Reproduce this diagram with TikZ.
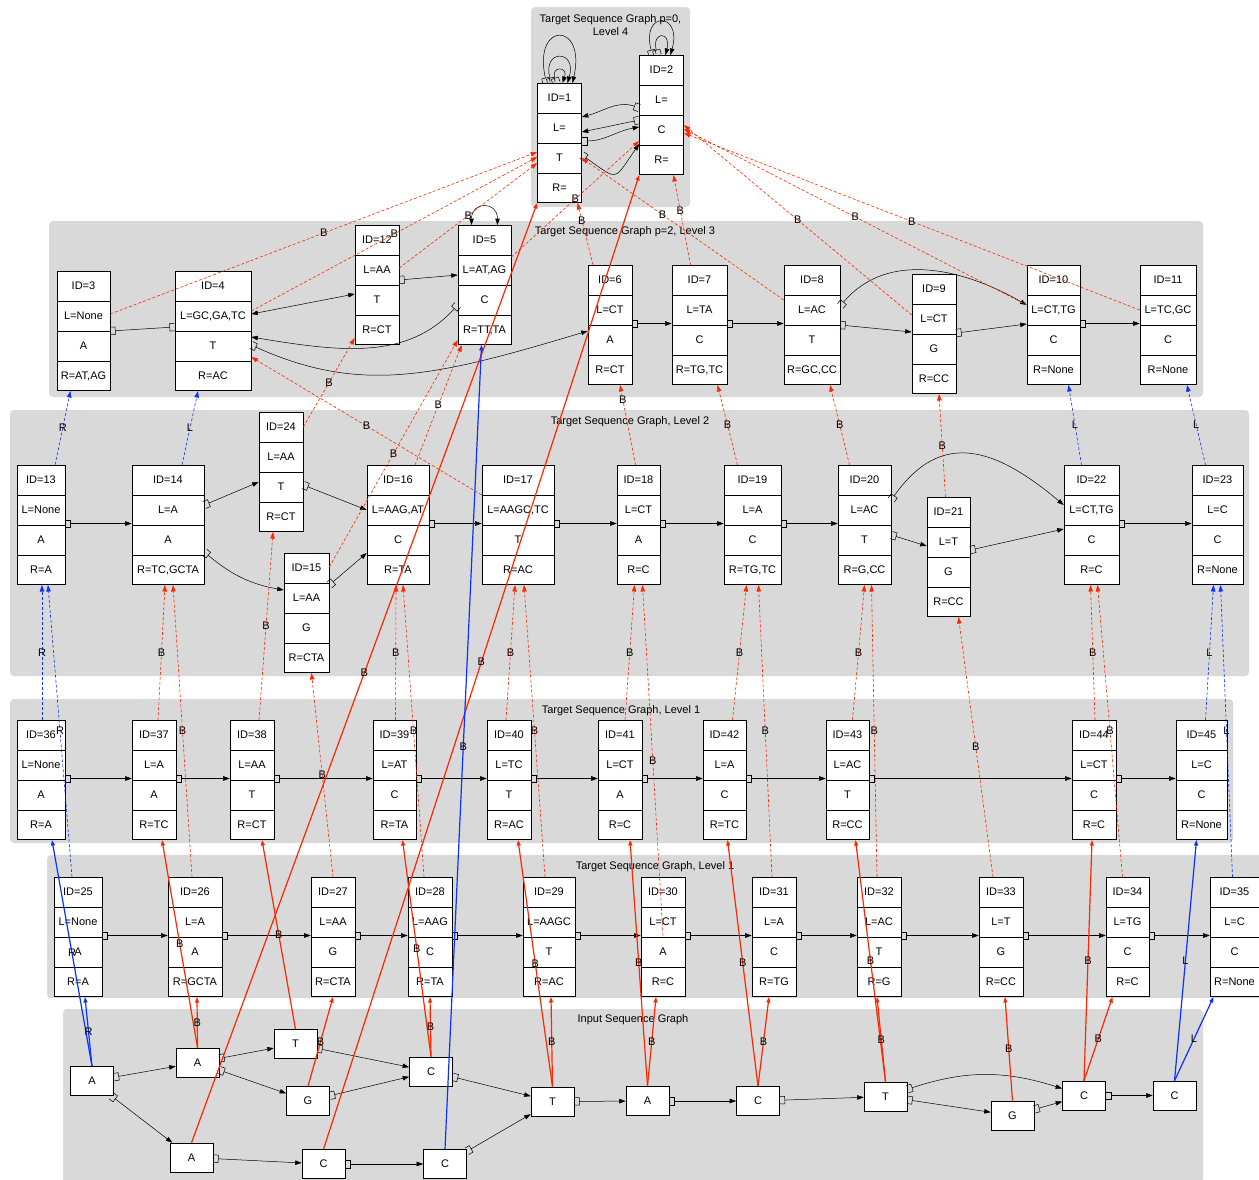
\documentclass[tikz,border=0pt]{standalone}
\usepackage{fontspec}
\setmainfont{Liberation Sans}
\usetikzlibrary{shapes.multipart,arrows.meta}
\definecolor{clus}{RGB}{217,217,217}
\definecolor{bred}{RGB}{255,38,0}
\definecolor{bblue}{RGB}{10,50,255}
\newcommand{\sr}{\rule[-11pt]{0pt}{29.25pt}}
\newcommand{\recnode}[7]{\node[rec,minimum width=#3pt] (#1) at (#2) {\sr ID=#4\nodepart{two}\sr L=#5\nodepart{three}\sr #6\nodepart{four}\sr R=#7};}
\begin{document}
\begin{tikzpicture}[x=1pt,y=1pt,font=\fontsize{11}{13}\selectfont,
  rec/.style={rectangle split,rectangle split parts=4,draw,fill=white,anchor=north,inner xsep=1pt,inner ysep=0pt,line width=0.6pt},
  box/.style={draw,fill=white,minimum width=43pt,minimum height=29pt,inner sep=0pt,line width=0.6pt},
  clusbox/.style={fill=clus,rounded corners=4pt},
  lnk/.style={line width=0.5pt,arrows={Bracket[reversed,length=5pt,width=8pt]-Triangle[length=6.5pt,width=4.5pt]}},
  lnkb/.style={line width=0.5pt,arrows={Triangle[length=6.5pt,width=4.5pt]-Triangle[length=6.5pt,width=4.5pt]}},
  lnkt/.style={line width=0.5pt,arrows={Bracket[reversed,length=5pt,width=8pt]-Bracket[reversed,length=5pt,width=8pt]}},
  redd/.style={draw=bred,line width=0.6pt,dash pattern=on 3pt off 2pt,arrows={-Triangle[length=6.5pt,width=4.5pt,fill=bred]}},
  blued/.style={draw=bblue,line width=0.6pt,dash pattern=on 3pt off 2pt,arrows={-Triangle[length=6.5pt,width=4.5pt,fill=bblue]}},
  reds/.style={draw=bred,line width=1.2pt,arrows={-Triangle[length=5.5pt,width=4pt,fill=bred]}},
  blues/.style={draw=bblue,line width=1.2pt,arrows={-Triangle[length=5.5pt,width=4pt,fill=bblue]}},
  lbl/.style={text=black,inner sep=0pt}]
\useasboundingbox (0,0) rectangle (1259,-1179);
\fill[clusbox] (531,-7) rectangle (690,-207);
\fill[clusbox] (49,-221) rectangle (1203,-397);
\fill[clusbox] (10,-410) rectangle (1249,-676);
\fill[clusbox] (10,-699) rectangle (1233,-843);
\fill[clusbox] (47,-855) rectangle (1263,-998);
\fill[clusbox] (63,-1009) rectangle (1203,-1183);
\node[align=center] (t4) at (610.5,-25) {Target Sequence Graph p=0,\\Level 4};
\node (t3) at (625,-232) {Target Sequence Graph p=2, Level 3};
\node (t2) at (630,-422) {Target Sequence Graph, Level 2};
\node (t1a) at (621,-711) {Target Sequence Graph, Level 1};
\node (t1b) at (655,-867) {Target Sequence Graph, Level 1};
\node (tin) at (633,-1020) {Input Sequence Graph};

\recnode{id1}{559.5,-83}{44}{1}{}{T}{}
\recnode{id2}{661.5,-55}{44}{2}{}{C}{}

\recnode{id3}{83.5,-271}{53}{3}{None}{A}{AT,AG}
\recnode{id4}{213,-271}{76}{4}{GC,GA,TC}{T}{AC}
\recnode{id12}{377,-225}{44}{12}{AA}{T}{CT}
\recnode{id5}{484.5,-225}{53}{5}{AT,AG}{C}{TT,TA}
\recnode{id6}{610,-265}{44}{6}{CT}{A}{CT}
\recnode{id7}{699.5,-265}{55}{7}{TA}{C}{TG,TC}
\recnode{id8}{812,-265}{56}{8}{AC}{T}{GC,CC}
\recnode{id9}{934,-274}{44}{9}{CT}{G}{CC}
\recnode{id10}{1053.5,-265}{53}{10}{CT,TG}{C}{None}
\recnode{id11}{1168,-265}{56}{11}{TC,GC}{C}{None}

\recnode{id13}{41,-465}{48}{13}{None}{A}{A}
\recnode{id14}{168,-465}{72}{14}{A}{A}{TC,GCTA}
\recnode{id24}{281,-412}{44}{24}{AA}{T}{CT}
\recnode{id15}{306.5,-553}{45}{15}{AA}{G}{CTA}
\recnode{id16}{398,-465}{62}{16}{AAG,AT}{C}{TA}
\recnode{id17}{518,-465}{72}{17}{AAGC,TC}{T}{AC}
\recnode{id18}{638.5,-465}{43}{18}{CT}{A}{C}
\recnode{id19}{752.5,-465}{57}{19}{A}{C}{TG,TC}
\recnode{id20}{864.5,-465}{53}{20}{AC}{T}{G,CC}
\recnode{id21}{948.5,-497}{43}{21}{T}{G}{CC}
\recnode{id22}{1091.5,-465}{55}{22}{CT,TG}{C}{C}
\recnode{id23}{1217.5,-465}{51}{23}{C}{C}{None}

\recnode{id36}{41,-720}{48}{36}{None}{A}{A}
\recnode{id37}{154,-720}{44}{37}{A}{A}{TC}
\recnode{id38}{252,-720}{44}{38}{AA}{T}{CT}
\recnode{id39}{394.5,-720}{43}{39}{AT}{C}{TA}
\recnode{id40}{509,-720}{44}{40}{TC}{T}{AC}
\recnode{id41}{620,-720}{44}{41}{CT}{A}{C}
\recnode{id42}{724.5,-720}{43}{42}{A}{C}{TC}
\recnode{id43}{847.5,-720}{43}{43}{AC}{T}{CC}
\recnode{id44}{1094,-720}{44}{44}{CT}{C}{C}
\recnode{id45}{1201.5,-720}{51}{45}{C}{C}{None}

\recnode{id25}{78,-877}{48}{25}{None}{A}{A}
\recnode{id26}{195,-877}{54}{26}{A}{A}{GCTA}
\recnode{id27}{333,-877}{44}{27}{AA}{G}{CTA}
\recnode{id28}{430,-877}{44}{28}{AAG}{C}{TA}
\recnode{id29}{549,-877}{52}{29}{AAGC}{T}{AC}
\recnode{id30}{663,-877}{44}{30}{CT}{A}{C}
\recnode{id31}{774,-877}{44}{31}{A}{C}{TG}
\recnode{id32}{879,-877}{44}{32}{AC}{T}{G}
\recnode{id33}{1001,-877}{44}{33}{T}{G}{CC}
\recnode{id34}{1127.5,-877}{43}{34}{TG}{C}{C}
\recnode{id35}{1234.5,-877}{49}{35}{C}{C}{None}

\node[box] (in1) at (92,-1081) {A};
\node[box] (in2) at (197.5,-1062.5) {A};
\node[box] (in3) at (295.5,-1044) {T};
\node[box] (in4) at (308,-1101) {G};
\node[box] (in5) at (431,-1071.5) {C};
\node[box] (in6) at (191.5,-1157.5) {A};
\node[box] (in7) at (323.5,-1164) {C};
\node[box] (in8) at (445,-1164) {C};
\node[box] (in9) at (552.5,-1101.5) {T};
\node[box] (in10) at (647.5,-1101) {A};
\node[box] (in11) at (758,-1101) {C};
\node[box] (in12) at (885.5,-1096.5) {T};
\node[box] (in13) at (1012.5,-1115.5) {G};
\node[box] (in14) at (1084,-1095.5) {C};
\node[box] (in15) at (1174.5,-1095.5) {C};

\draw[lnk] ([xshift=-13]id1.north) .. controls +(-14,62) and +(14,62) .. ([xshift=13]id1.north);
\draw[lnk] ([xshift=-8]id1.north) .. controls +(-10,34) and +(10,34) .. ([xshift=8]id1.north);
\draw[lnk] ([xshift=-3]id1.north) .. controls +(-6,17) and +(6,17) .. ([xshift=3]id1.north);
\draw[lnk] ([xshift=-9]id2.north) .. controls +(-12,44) and +(12,44) .. ([xshift=9]id2.north);
\draw[lnk] ([xshift=-4]id2.north) .. controls +(-6,24) and +(6,24) .. ([xshift=4]id2.north);
\draw[lnk] ([yshift=-53]id2.north west) to[out=160,in=15] ([yshift=-34]id1.north east);
\draw[lnk] ([yshift=-65]id2.north west) -- ([yshift=-49]id1.north east);
\draw[lnk] ([yshift=-58]id1.north east) to[out=0,in=190] ([yshift=-72]id2.north west);
\draw[lnk] ([yshift=-72]id1.north east) to[out=-35,in=235,looseness=2] ([yshift=-89]id2.north west);

\draw[lnkb] ([xshift=-13]id5.north) .. controls +(0,24) and +(0,24) .. ([xshift=13]id5.north);
\draw[lnkt] ([yshift=-60]id3.north east) -- ([yshift=-56]id4.north west);
\draw[lnkb] ([yshift=-43]id4.north east) -- ([yshift=-69]id12.north west);
\draw[lnk] ([yshift=-55]id12.north east) -- ([yshift=-50]id5.north west);
\draw[lnk] ([yshift=-80]id5.north west) .. controls +(-50,-55) and +(90,-15) .. ([yshift=-66]id4.north east);
\draw[lnk] ([yshift=-74]id4.north east) .. controls +(110,-50) and +(-150,-45) .. ([yshift=-66]id6.north west);
\draw[lnk] ([yshift=-60]id8.north east) -- ([yshift=-58]id9.north west);
\draw[lnk] ([yshift=-41]id8.north east) to[out=50,in=150] ([yshift=-40]id10.north west);
\draw[lnk] ([yshift=-59]id9.north east) -- ([yshift=-59]id10.north west);
\foreach \a/\b in {id6/id7,id7/id8,id10/id11,id13/id14,id16/id17,id17/id18,id18/id19,id19/id20,id22/id23,
  id36/id37,id37/id38,id38/id39,id39/id40,id40/id41,id41/id42,id42/id43,id43/id44,id44/id45,
  id25/id26,id26/id27,id27/id28,id28/id29,id29/id30,id30/id31,id31/id32,id32/id33,id33/id34,id34/id35}
  \draw[lnk] ([yshift=-58.5]\a.north east) -- ([yshift=-58.5]\b.north west);

\draw[lnk] ([yshift=-40]id14.north east) -- ([yshift=-70]id24.north west);
\draw[lnk] ([yshift=-87]id14.north east) to[out=-40,in=170] ([yshift=-37]id15.north west);
\draw[lnk] ([yshift=-73]id24.north east) -- ([yshift=-45]id16.north west);
\draw[lnk] ([yshift=-32]id15.north east) -- ([yshift=-88]id16.north west);
\draw[lnk] ([yshift=-35]id20.north east) to[out=55,in=140,looseness=1.3] ([yshift=-40]id22.north west);
\draw[lnk] ([yshift=-70]id20.north east) -- ([yshift=-49]id21.north west);
\draw[lnk] ([yshift=-53]id21.north east) -- ([yshift=-64]id22.north west);

\foreach \a/\b in {in1/in2,in1/in6,in2/in3,in2/in4,in3/in5,in4/in5,in5/in9,in6/in7,in7/in8,in8/in9,
  in9/in10,in10/in11,in11/in12,in12/in13,in13/in14,in14/in15}
  \draw[lnk] (\a) -- (\b);
\draw[lnk] (in12) to[bend left=18] (in14);

\draw[redd] ([yshift=-43]id3.north east) -- node[lbl]{B} ([yshift=-69]id1.north west);
\draw[redd] ([yshift=-40]id4.north east) -- node[lbl]{B} ([yshift=-74]id1.north west);
\draw[redd] ([yshift=-43]id12.north east) -- node[lbl]{B} ([yshift=-80]id1.north west);
\draw[redd] ([yshift=-32]id5.north east) -- node[lbl]{B} ([yshift=-86]id2.north west);
\draw[redd] ([xshift=-17]id6.north) -- node[lbl,pos=0.72]{B} ([xshift=18]id1.south);
\draw[redd] ([xshift=-9]id7.north) -- node[lbl,pos=0.6]{B} ([xshift=12]id2.south);
\draw[redd] ([yshift=-35]id8.north west) -- node[lbl,pos=0.6]{B} ([yshift=-75]id1.north east);
\draw[redd] ([yshift=-41]id9.north west) -- node[lbl]{B} ([yshift=-70]id2.north east);
\draw[redd] ([yshift=-40]id10.north west) -- node[lbl]{B} ([yshift=-74]id2.north east);
\draw[redd] ([yshift=-45]id11.north west) -- node[lbl]{B} ([yshift=-78]id2.north east);

\draw[blued] ([xshift=14]id13.north) -- node[lbl]{R} ([xshift=-13]id3.south);
\draw[blued] ([xshift=14]id14.north) -- node[lbl]{L} ([xshift=-15]id4.south);
\draw[blued] ([xshift=-10]id22.north) -- node[lbl]{L} ([xshift=15]id10.south);
\draw[blued] ([xshift=-12]id23.north) -- node[lbl]{L} ([xshift=19]id11.south);
\draw[redd] ([xshift=-3]id18.north) -- node[lbl,pos=0.82]{B} ([xshift=10]id6.south);
\draw[redd] ([xshift=-15]id19.north) -- node[lbl]{B} ([xshift=18]id7.south);
\draw[redd] ([xshift=-15]id20.north) -- node[lbl]{B} ([xshift=18]id8.south);
\draw[redd] ([xshift=-3]id21.north) -- node[lbl]{B} ([xshift=5]id9.south);
\draw[redd] ([yshift=-15]id24.north east) -- node[lbl]{B} ([yshift=7]id12.south west);
\draw[redd] ([yshift=-14]id15.north east) -- node[lbl]{B} ([yshift=5]id5.south west);
\draw[redd] ([xshift=17]id16.north) -- node[lbl]{B} ([xshift=4]id5.south west);
\draw[redd] ([yshift=-30]id17.north west) -- node[lbl]{B} ([yshift=-86]id4.north east);

\draw[blued] ([xshift=1]id36.north) -- node[lbl]{R} ([xshift=1]id13.south);
\draw[redd] ([xshift=4]id37.north) -- node[lbl]{B} ([xshift=-3]id14.south);
\draw[redd] ([xshift=7]id38.north) -- node[lbl]{B} ([xshift=-8]id24.south);
\draw[redd] ([xshift=1]id39.north) -- node[lbl]{B} ([xshift=-2]id16.south);
\draw[redd] ([xshift=-3]id40.north) -- node[lbl]{B} ([xshift=-3]id17.south);
\draw[redd] ([xshift=5]id41.north) -- node[lbl]{B} ([xshift=-4]id18.south);
\draw[redd] ([xshift=8]id42.north) -- node[lbl]{B} ([xshift=-6]id19.south);
\draw[redd] ([xshift=5]id43.north) -- node[lbl]{B} (id20.south);
\draw[redd] ([xshift=1]id44.north) -- node[lbl]{B} ([xshift=-1]id22.south);
\draw[blued] ([xshift=4]id45.north) -- node[lbl]{L} ([xshift=-4]id23.south);

\draw[blued] ([xshift=-6]id25.north) -- node[lbl]{R} ([xshift=7]id13.south);
\draw[redd] ([xshift=-3]id26.north) -- node[lbl]{B} ([xshift=5]id14.south);
\draw[redd] (id27.north) -- node[lbl]{B} ([xshift=5]id15.south);
\draw[redd] ([xshift=-6]id28.north) -- node[lbl]{B} ([xshift=5]id16.south);
\draw[redd] ([xshift=-4]id29.north) -- node[lbl]{B} ([xshift=6]id17.south);
\draw[redd] ([yshift=-58.5]id30.north) -- node[lbl]{B} ([xshift=4]id18.south);
\draw[redd] ([xshift=-2]id31.north) -- node[lbl]{B} ([xshift=6]id19.south);
\draw[redd] ([xshift=-2]id32.north) -- node[lbl]{B} ([xshift=7]id20.south);
\draw[redd] ([xshift=-8]id33.north) -- node[lbl]{B} ([xshift=10]id21.south);
\draw[redd] ([xshift=-5]id34.north) -- node[lbl]{B} ([xshift=6]id22.south);
\draw[blued] ([xshift=-2]id35.north) -- node[lbl]{L} ([xshift=3]id23.south);

\draw[blues] (in1.north) -- node[lbl]{R} ([xshift=11]id36.south);
\draw[blues] (in1.north) -- node[lbl]{R} ([xshift=7]id25.south);
\draw[reds] (in2.north) -- node[lbl]{B} ([xshift=8]id37.south);
\draw[reds] (in2.north) -- node[lbl]{B} ([xshift=2]id26.south);
\draw[reds] (in3.north) -- node[lbl]{B} ([xshift=10]id38.south);
\draw[reds] (in4.north) -- node[lbl]{B} (id27.south);
\draw[reds] (in5.north) -- node[lbl]{B} ([xshift=8]id39.south);
\draw[reds] (in5.north) -- node[lbl]{B} (id28.south);
\draw[reds] (in6.north) -- node[lbl]{B} (id1.south west);
\draw[reds] (in7.north) -- node[lbl]{B} (id2.south west);
\draw[blues] (in8.north) -- node[lbl]{B} ([xshift=-3]id5.south);
\draw[reds] (in9.north) -- node[lbl]{B} ([xshift=9]id40.south);
\draw[reds] (in9.north) -- node[lbl]{B} ([xshift=2]id29.south);
\draw[reds] (in10.north) -- node[lbl]{B} ([xshift=10]id41.south);
\draw[reds] (in10.north) -- node[lbl]{B} ([xshift=-7]id30.south);
\draw[reds] (in11.north) -- node[lbl]{B} ([xshift=3]id42.south);
\draw[reds] (in11.north) -- node[lbl]{B} ([xshift=-5]id31.south);
\draw[reds] (in12.north) -- node[lbl]{B} ([xshift=8]id43.south);
\draw[reds] (in12.north) -- node[lbl]{B} ([xshift=-2]id32.south);
\draw[reds] (in13.north) -- node[lbl]{B} ([xshift=4]id33.south);
\draw[reds] (in14.north) -- node[lbl]{B} ([xshift=-2]id44.south);
\draw[reds] (in14.north) -- node[lbl]{B} ([xshift=-15]id34.south);
\draw[blues] (in15.north) -- node[lbl]{L} ([xshift=-5]id45.south);
\draw[blues] (in15.north) -- node[lbl]{L} ([xshift=-21]id35.south);
\end{tikzpicture}
\end{document}
